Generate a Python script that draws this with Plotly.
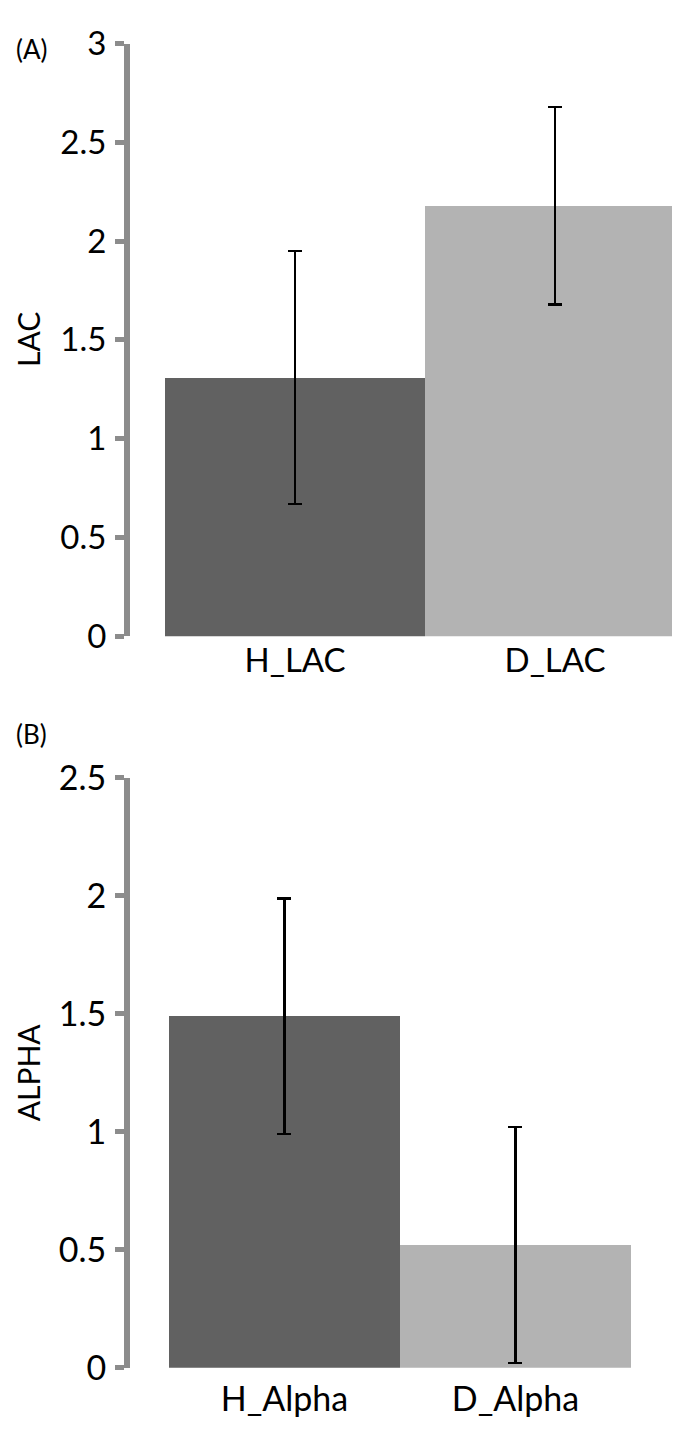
import plotly.graph_objects as go

# panel A: LAC
lac_labels = ['H_LAC', 'D_LAC']
lac_values = [1.31, 2.18]
lac_err = [0.64, 0.50]

# panel B: ALPHA
alpha_labels = ['H_Alpha', 'D_Alpha']
alpha_values = [1.49, 0.52]
alpha_err = [0.50, 0.50]

bar_colors = ['#616161', '#b3b3b3']
axis_grey = '#8c8c8c'
font_family = 'Lato, Open Sans, sans-serif'

fig = go.Figure()

fig.add_trace(go.Bar(
    x=lac_labels, y=lac_values, marker=dict(color=bar_colors, line=dict(width=0)),
    error_y=dict(type='data', array=lac_err, color='black', thickness=2.5, width=7),
    xaxis='x', yaxis='y', showlegend=False))

fig.add_trace(go.Bar(
    x=alpha_labels, y=alpha_values, marker=dict(color=bar_colors, line=dict(width=0)),
    error_y=dict(type='data', array=alpha_err, color='black', thickness=2.5, width=7),
    xaxis='x2', yaxis='y2', showlegend=False))

W, H = 680, 1434

def yaxis_style(rng, dom, size):
    return dict(range=rng, dtick=0.5, domain=dom, showgrid=False, zeroline=False,
                showline=True, linewidth=6, linecolor=axis_grey,
                ticks='outside', ticklen=9, tickwidth=5, tickcolor=axis_grey,
                ticklabelstandoff=2,
                tickfont=dict(size=size, color='black', family=font_family))

def xaxis_style(rng, dom, anchor, size, standoff):
    return dict(range=rng, domain=dom, anchor=anchor, showgrid=False, zeroline=False,
                showline=False, ticks='', type='category', ticklabelstandoff=standoff,
                tickfont=dict(size=size, color='black', family=font_family))

def label(text, x, y, size, angle=0, anchor='left'):
    return dict(text=text, x=x / W, y=1 - y / H, xref='paper', yref='paper',
                xanchor=anchor, yanchor='middle', showarrow=False, textangle=angle,
                font=dict(size=size, color='black', family=font_family))

fig.update_layout(
    width=W, height=H,
    margin=dict(l=0, r=0, t=0, b=0),
    plot_bgcolor='white', paper_bgcolor='white',
    bargap=0,
    xaxis=xaxis_style([-0.635, 1.5], [122 / W, 677 / W], 'y', 33, 2),
    yaxis=yaxis_style([0, 3], [1 - 624 / H, 1 - 14 / H], 33),
    xaxis2=xaxis_style([-0.699, 1.5], [115 / W, 623 / W], 'y2', 34, 8),
    yaxis2=yaxis_style([0, 2.5], [1 - 1377 / H, 1 - 770 / H], 34),
    annotations=[
        label('(A)', 6, 20, 26),
        label('(B)', 6, 725, 26),
        label('LAC', 20, 319, 30, -90, 'center'),
        label('ALPHA', 20, 1073, 30, -90, 'center'),
    ],
)

fig.write_html('out.html')
